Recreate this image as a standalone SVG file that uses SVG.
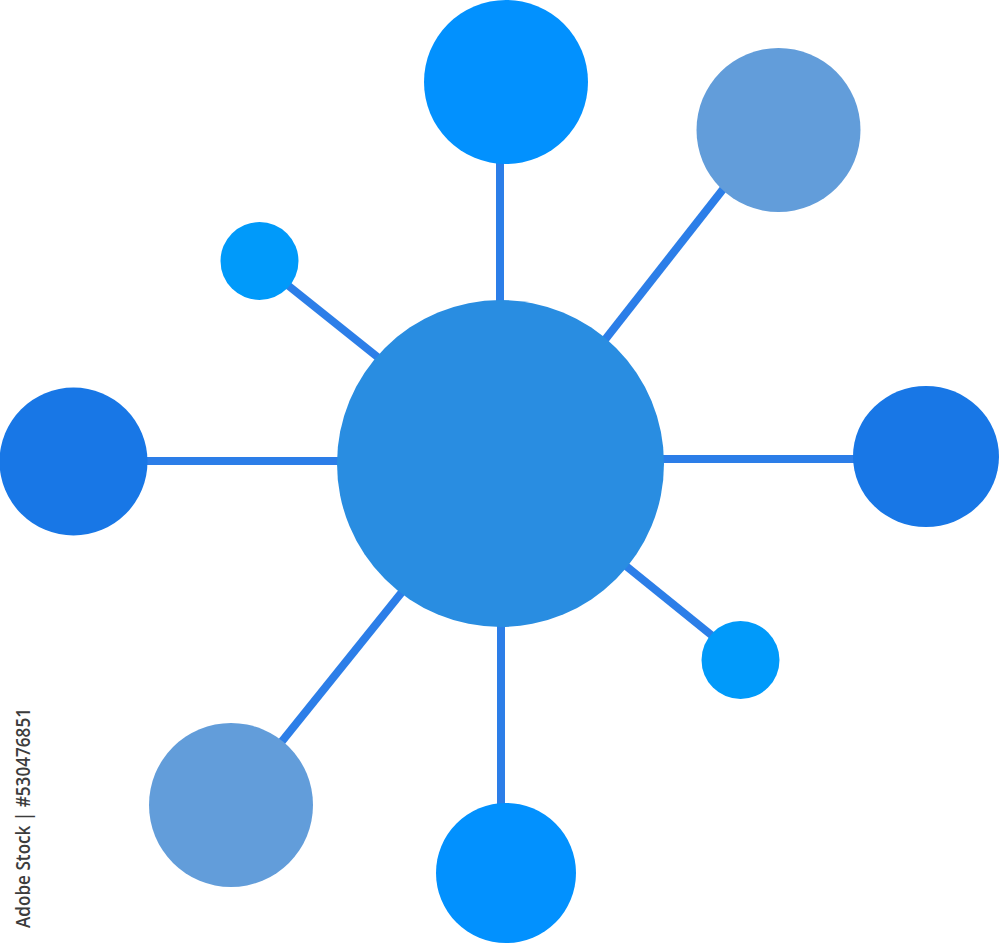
<svg xmlns="http://www.w3.org/2000/svg" width="1000" height="944" viewBox="0 0 1000 944">
<style>
.ln{stroke:#2C7EE8;stroke-width:8;fill:none}
.c1{fill:#0291FE}
.c2{fill:#629DDA}
.c3{fill:#1877E6}
.c4{fill:#009AFA}
.hub{fill:#298DE1}
.wm{font-family:"Open Sans","Liberation Sans",sans-serif;font-size:20px;font-weight:600;fill:#3c3c3c}
</style>
<rect width="1000" height="944" fill="#fff"/>
<g id="connectors">
<line class="ln" x1="500" y1="160" x2="500" y2="305"/>
<line class="ln" x1="724" y1="188" x2="604" y2="341"/>
<line class="ln" x1="285" y1="283" x2="380" y2="359"/>
<line class="ln" x1="145" y1="461" x2="340" y2="461"/>
<line class="ln" x1="660" y1="459" x2="856" y2="459"/>
<line class="ln" x1="626" y1="566" x2="715" y2="638"/>
<line class="ln" x1="402" y1="592" x2="279" y2="745"/>
<line class="ln" x1="501" y1="624" x2="501" y2="806"/>
</g>
<g id="hub"><circle class="hub" cx="500.5" cy="463.5" r="163.5"/></g>
<g id="n-top"><circle class="c1" cx="506" cy="82" r="82"/></g>
<g id="n-topright"><circle class="c2" cx="778.5" cy="130" r="82"/></g>
<g id="n-smallul"><circle class="c4" cx="259.5" cy="261" r="39"/></g>
<g id="n-left"><circle class="c3" cx="73.5" cy="461.5" r="74"/></g>
<g id="n-right"><ellipse class="c3" cx="926" cy="456.5" rx="73" ry="70.5"/></g>
<g id="n-smalllr"><circle class="c4" cx="740.5" cy="660" r="39"/></g>
<g id="n-bottomleft"><circle class="c2" cx="231" cy="805" r="82"/></g>
<g id="n-bottom"><circle class="c1" cx="506" cy="873" r="70"/></g>
<text class="wm" transform="translate(30,818) rotate(-90)" text-anchor="middle" textLength="220" lengthAdjust="spacingAndGlyphs">Adobe Stock | #530476851</text>
</svg>
